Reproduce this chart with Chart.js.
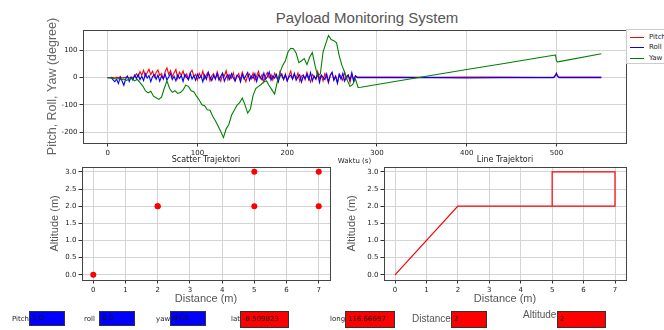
<!DOCTYPE html>
<html>
<head>
<meta charset="utf-8">
<title>Payload Monitoring System</title>
<script src="https://cdn.jsdelivr.net/npm/chart.js@4.4.0/dist/chart.umd.min.js"></script>
<style>
  body { margin: 0; width: 664px; height: 330px; overflow: hidden; background: #fff; position: relative; font-family: "DejaVu Sans", sans-serif; }
  .pane { position: absolute; }
  #mainTitle { position: absolute; left: 0; top: 8px; width: 734px; text-align: center; font: 15px "Liberation Sans", sans-serif; line-height: 20px; color: #555; }
  #legend { position: absolute; left: 626px; top: 29px; width: 60px; height: 35px; box-sizing: border-box; border: 1px solid #ccc; background: #fff; font-size: 7px; color: #222; }
  #legend div { position: absolute; left: 0; height: 10px; line-height: 10px; color: #222; }
  #legend span { display: inline-block; width: 14px; height: 0; border-top: 1.5px solid; vertical-align: middle; margin: 0 5px 0 3px; }
  .lbl { position: absolute; font-size: 7px; line-height: 10px; color: #222; }
  .big { font: 10px "Liberation Sans", sans-serif; line-height: 12px; color: #555; }
  .tb { position: absolute; box-sizing: border-box; border: 1px solid #333; font-size: 7px; color: #111; padding-left: 2px; }
  .blue { background: #0000ff; height: 15px; top: 311px; line-height: 13px; }
  .red { background: #ff0000; height: 17px; top: 311px; line-height: 15px; }
</style>
</head>
<body>
<div id="mainTitle">Payload Monitoring System</div>

<div class="pane" style="left:0;top:0;width:664px;height:165px"><canvas id="sensorChart"></canvas></div>
<div class="pane" style="left:0;top:151px;width:340px;height:159px"><canvas id="scatterChart"></canvas></div>
<div class="pane" style="left:340px;top:151px;width:324px;height:159px"><canvas id="lineChart"></canvas></div>

<div id="legend">
  <div style="top:2px"><span style="color:#ff0000"></span>Pitch</div>
  <div style="top:12px"><span style="color:#0000ff"></span>Roll</div>
  <div style="top:23px"><span style="color:#008000"></span>Yaw</div>
</div>

<div class="lbl" style="left:12px;top:314px">Pitch</div>
<div class="tb blue" style="left:29px;width:36px">1.0</div>
<div class="lbl" style="left:84px;top:314px">roll</div>
<div class="tb blue" style="left:99px;width:36px">0.0</div>
<div class="lbl" style="left:156px;top:314px">yaw</div>
<div class="tb blue" style="left:170px;width:36px">84.0</div>
<div class="lbl" style="left:231px;top:314px">lat</div>
<div class="tb red" style="left:240px;width:49px">-8.509823</div>
<div class="lbl" style="left:330px;top:314px">long</div>
<div class="tb red" style="left:345px;width:50px">116.66697</div>
<div class="lbl big" style="left:412px;top:313px">Distance</div>
<div class="tb red" style="left:451px;width:36px">2</div>
<div class="lbl big" style="left:523px;top:309px">Altitude</div>
<div class="tb red" style="left:557px;width:49px">2</div>

<script>
'use strict';

// pitch and roll during flight, every 2 s
var timePR = [
  0, 2, 4, 6, 8, 10, 12, 14, 16, 18,
  20, 22, 24, 26, 28, 30, 32, 34, 36, 38,
  40, 42, 44, 46, 48, 50, 52, 54, 56, 58,
  60, 62, 64, 66, 68, 70, 72, 74, 76, 78,
  80, 82, 84, 86, 88, 90, 92, 94, 96, 98,
  100, 102, 104, 106, 108, 110, 112, 114, 116, 118,
  120, 122, 124, 126, 128, 130, 132, 134, 136, 138,
  140, 142, 144, 146, 148, 150, 152, 154, 156, 158,
  160, 162, 164, 166, 168, 170, 172, 174, 176, 178,
  180, 182, 184, 186, 188, 190, 192, 194, 196, 198,
  200, 202, 204, 206, 208, 210, 212, 214, 216, 218,
  220, 222, 224, 226, 228, 230, 232, 234, 236, 238,
  240, 242, 244, 246, 248, 250, 252, 254, 256, 258,
  260, 262, 264, 266, 268, 270, 272, 274, 276, 278
];
var pitchA = [
  0, 0, 1, 0, -1, 1, 0, 2, -1, 0,
  1, 3, -2, 2, 0, 4, 14, 3, 22, 9,
  27, 6, 18, 31, 11, 24, 2, 19, 28, 8,
  15, -5, 22, 36, 12, 26, 4, 17, 30, -3,
  20, 9, 25, 1, 14, -6, 18, 27, 5, 12,
  -9, 16, 3, 24, -4, 10, 21, -11, 7, 15,
  -6, 22, 2, -13, 14, 6, 26, -8, 11, -2,
  18, -12, 4, 15, -7, 20, 1, -15, 9, 13,
  -4, 17, -10, 6, 23, -3, 11, -16, 8, 19,
  -1, 12, -9, 16, 3, -14, 21, 5, -6, 14,
  -11, 8, 24, -5, 13, -2, 17, -13, 6, 10,
  -8, 19, 1, -16, 12, 4, -7, 22, -3, 9,
  -12, 15, 2, -19, 10, 18, -6, 7, -21, 13,
  4, -10, 20, -4, 9, -17, 14, -8, 6, 3
];
var rollA = [
  0, 0, 0, -8, -15, -6, -22, 3, -12, -28,
  -5, 6, -14, 2, -9, 9, -3, 12, -7, 5,
  -11, 14, -2, 8, -15, 4, 11, -6, 9, -13,
  6, -4, 13, -9, 2, 15, -7, 5, -12, 10,
  -3, 8, -14, 12, 1, -8, 16, -5, 7, -10,
  13, -2, 6, -15, 10, -6, 18, 3, -11, 8,
  -4, 14, -9, 5, 17, -13, 2, 11, -7, 15,
  -1, -12, 9, 4, -16, 13, -5, 8, 19, -10,
  6, -3, 15, -14, 10, 2, -8, 17, -6, 4,
  21, -9, 7, -2, 12, -15, 5, 14, -7, 10,
  -13, 3, 9, -5, 16, -10, 2, 11, -16, 7,
  -3, 13, -8, 18, -12, 6, -4, 15, -18, 9,
  2, -7, 14, -15, 8, 20, -10, 5, -19, 12,
  -6, 16, -13, 4, 10, -9, 18, -14, 7, 0
];

// yaw during flight, every 3 s
var timeYaw = [
  0, 3, 6, 9, 12, 15, 18, 21, 24, 27,
  30, 33, 36, 39, 42, 45, 48, 51, 54, 57,
  60, 63, 66, 69, 72, 75, 78, 81, 84, 87,
  90, 93, 96, 99, 102, 105, 108, 111, 114, 117,
  120, 123, 126, 129, 132, 135, 138, 141, 144, 147,
  150, 153, 156, 159, 162, 165, 168, 171, 174, 177,
  180, 183, 186, 189, 192, 195, 198, 201, 204, 207,
  210, 213, 216, 219, 222, 225, 228, 231, 234, 237,
  240, 243, 246, 249, 252, 255, 258, 261, 264, 267,
  270, 273, 276, 279
];
var yawA = [
  0, 0, -2, -5, -3, -8, -5, -10, -6, -3,
  -12, -6, -18, -30, -48, -56, -50, -68, -74, -80,
  -72, -40, -12, -40, -54, -48, -58, -55, -45, -28,
  -32, -48, -52, -68, -82, -100, -103, -118, -120, -142,
  -158, -178, -198, -220, -188, -172, -138, -120, -102, -92,
  -75, -100, -130, -115, -65, -40, -32, -25, -15, -12,
  -30, -45, -60, -15, 20, 45, 62, 95, 108, 106,
  90, 55, 62, 70, 48, 75, 92, 45, 5, 15,
  95, 125, 155, 140, 136, 128, 80, 45, 20, -10,
  -32, -25, -5, -36
];

// after landing, sparse samples
var timeB = [282, 320, 360, 400, 440, 480, 497, 499, 500, 501, 503, 550];
var pitchB = [2, 2, 1, 2, 2, 1, 2, 10, 17, 8, 2, 2];
var rollB = [0, 0, 0, -1, 0, 0, 0, 8, 15, 6, 0, 0];
var yawB = [-35, -14, 8, 30, 51, 73, 82, 83, 62, 58, 59, 88];

var timeTicks = [0, 100, 200, 300, 400, 500];
var degreeTicks = [-200, -100, 0, 100];

// trajectory
var distance = [0, 2, 5, 5, 7, 7, 2];
var altitude = [0, 2, 2, 3, 3, 2, 2];
var distanceTicks = [0, 1, 2, 3, 4, 5, 6, 7];
var altitudeTicks = [0, 0.5, 1, 1.5, 2, 2.5, 3];

var sans = '"Liberation Sans", sans-serif';
Chart.defaults.font.family = '"DejaVu Sans", sans-serif';
Chart.defaults.color = '#222';

function points(xs, ys) {
  var out = [];
  for (var i = 0; i < xs.length; i++) {
    out.push({x: xs[i], y: ys[i]});
  }
  return out;
}

function fixTicks(list) {
  return function (scale) {
    scale.ticks = list.map(function (v) { return {value: v}; });
  };
}

// box round the plot, like the axes spines
var frame = {
  id: 'frame',
  afterDraw: function (chart) {
    var a = chart.chartArea;
    var ctx = chart.ctx;
    ctx.save();
    ctx.strokeStyle = '#444';
    ctx.lineWidth = 1;
    ctx.strokeRect(Math.round(a.left) + 0.5, Math.round(a.top) + 0.5,
      Math.round(a.right - a.left), Math.round(a.bottom - a.top));
    ctx.restore();
  }
};

function axis(min, max, list, size, title, extra) {
  var o = {
    type: 'linear',
    min: min,
    max: max,
    afterBuildTicks: fixTicks(list),
    afterFit: function (scale) {
      if (scale.isHorizontal()) {
        scale.height = size;
      } else {
        scale.width = size;
      }
    },
    grid: {color: '#d4d4d4', tickColor: '#333', tickLength: 3.5, lineWidth: 1},
    border: {display: false},
    ticks: {autoSkip: false, maxRotation: 0, font: {size: 7}, color: '#222', padding: 2},
    title: title
  };
  if (extra) {
    o.ticks.callback = extra;
  }
  return o;
}

var base = {
  responsive: true,
  maintainAspectRatio: false,
  animation: false,
  devicePixelRatio: 1,
  events: []
};

var flightPR = timePR.concat(timeB);
var flightYaw = timeYaw.concat(timeB);

new Chart(document.getElementById('sensorChart'), {
  type: 'line',
  data: {
    datasets: [
      {label: 'Pitch', data: points(flightPR, pitchA.concat(pitchB)), borderColor: '#ff0000', borderWidth: 1.1, pointRadius: 0, order: 2},
      {label: 'Roll', data: points(flightPR, rollA.concat(rollB)), borderColor: '#0000ff', borderWidth: 1.1, pointRadius: 0, order: 1},
      {label: 'Yaw', data: points(flightYaw, yawA.concat(yawB)), borderColor: '#008000', borderWidth: 1.1, pointRadius: 0, order: 0}
    ]
  },
  options: Object.assign({}, base, {
    layout: {padding: {top: 30, right: 38, left: 0, bottom: 0}},
    plugins: {legend: {display: false}, tooltip: {enabled: false}},
    scales: {
      x: axis(-27.5, 577.5, timeTicks, 22,
        {display: true, text: 'Waktu (s)', font: {size: 7}, color: '#222', padding: {top: 0, bottom: 0}}),
      y: axis(-240, 175, degreeTicks, 83,
        {display: true, text: 'Pitch, Roll, Yaw (degree)', font: {family: sans, size: 12.5}, color: '#666', padding: {top: 45.5, bottom: 0}})
    }
  }),
  plugins: [frame]
});

function oneDecimal(v) {
  return v.toFixed(1);
}

function trajectory(id, type, name, yWidth, yPad, rightPad, ds) {
  return new Chart(document.getElementById(id), {
    type: type,
    data: {datasets: [ds]},
    options: Object.assign({}, base, {
      layout: {padding: {top: 0, right: rightPad, left: 0, bottom: 0}},
      plugins: {
        legend: {display: false},
        tooltip: {enabled: false},
        title: {display: true, text: name, fullSize: false, font: {size: 8, weight: 'normal'}, color: '#222', padding: {top: 3.7, bottom: 2.4}}
      },
      scales: {
        x: axis(-0.35, 7.35, distanceTicks, 30,
          {display: true, text: 'Distance (m)', font: {family: sans, size: 11}, color: '#555', padding: {top: 0, bottom: 4.4}}),
        y: axis(-0.15, 3.15, altitudeTicks, yWidth,
          {display: true, text: 'Altitude (m)', font: {family: sans, size: 11}, color: '#555', padding: {top: yPad, bottom: 0}}, oneDecimal)
      }
    }),
    plugins: [frame]
  });
}

trajectory('scatterChart', 'scatter', 'Scatter Trajektori', 82, 48.4, 10, {
  data: points(distance, altitude),
  backgroundColor: '#ff0000',
  borderWidth: 0,
  pointRadius: 3
});

trajectory('lineChart', 'line', 'Line Trajektori', 44, 5.4, 38, {
  data: points(distance, altitude),
  borderColor: '#ff0000',
  borderWidth: 1.2,
  pointRadius: 0,
  tension: 0
});
</script>
</body>
</html>
